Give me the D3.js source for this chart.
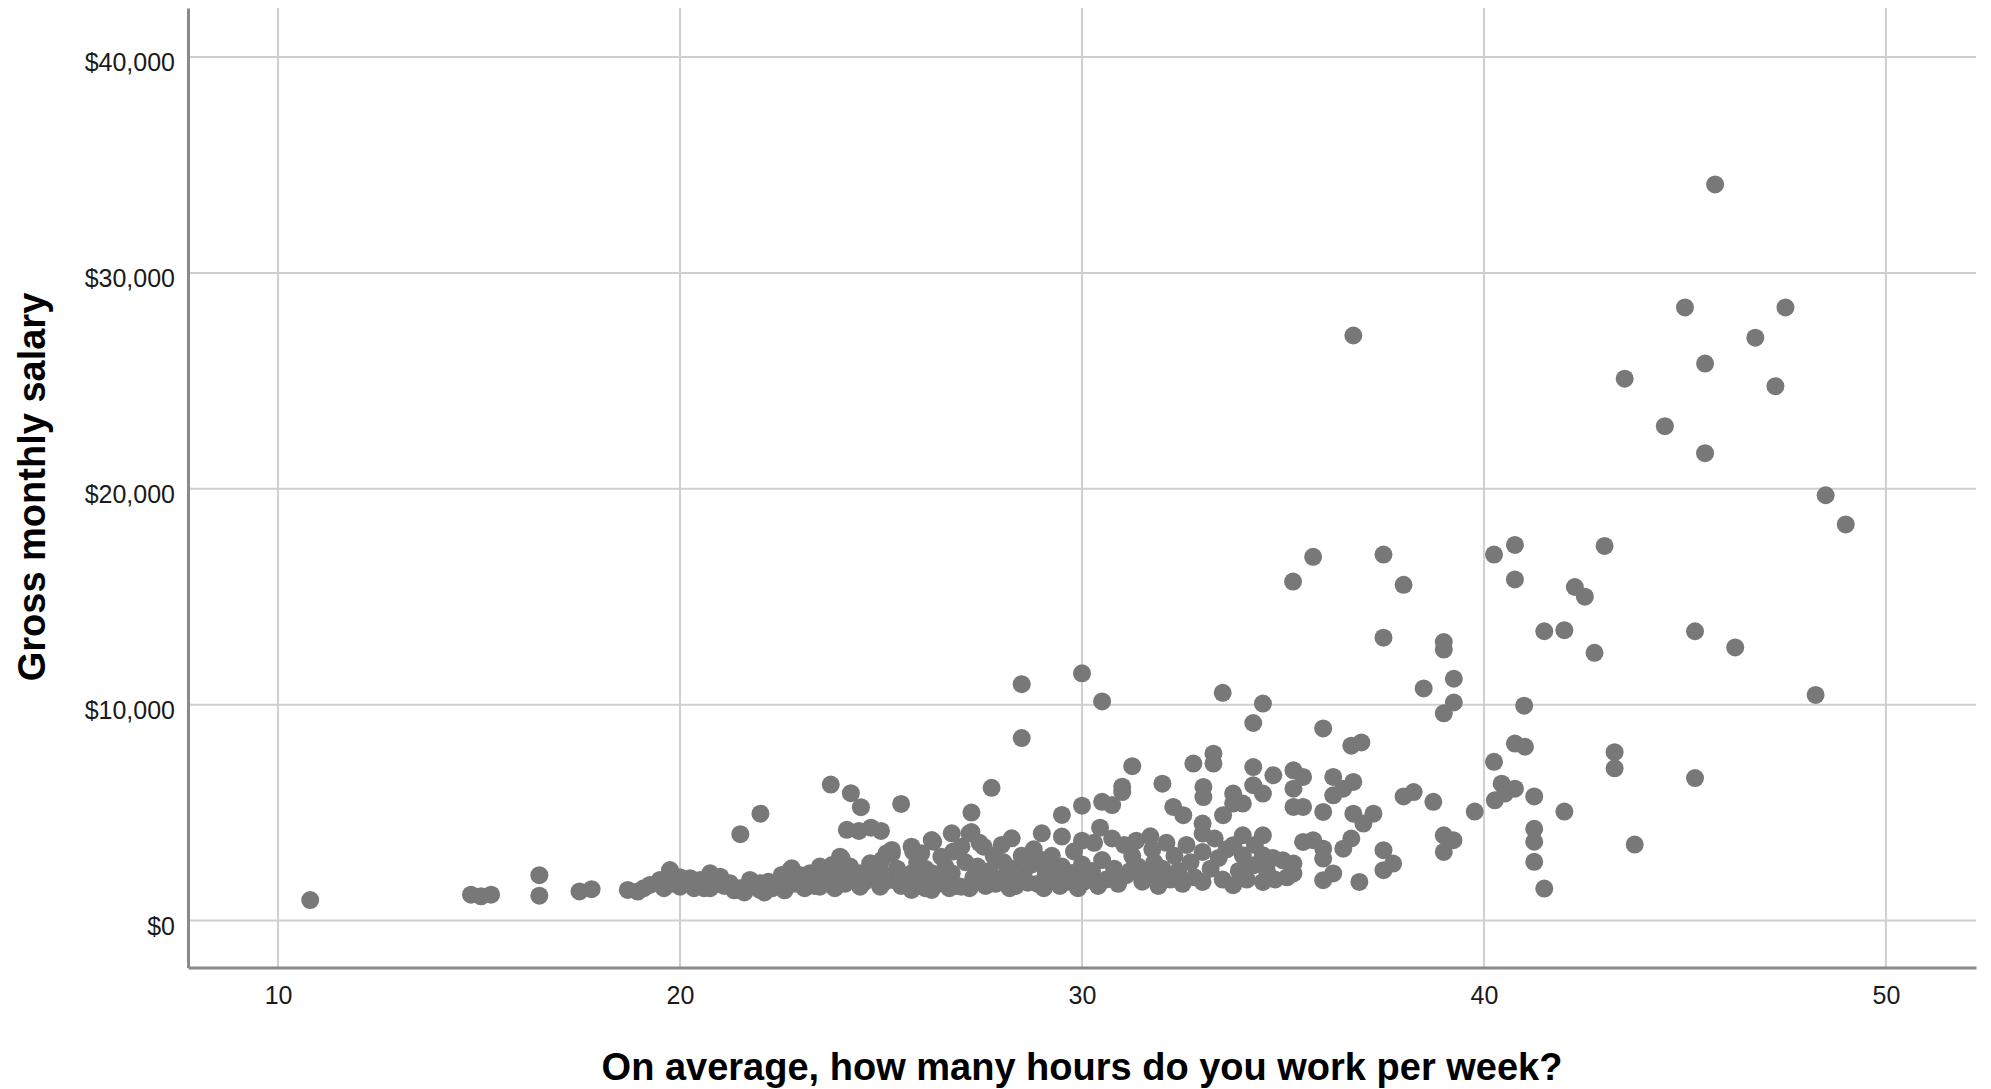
<!DOCTYPE html>
<html>
    <head>
        <meta charset="utf-8">
        <script src="https://d3js.org/d3.v7.min.js"></script>
    </head>

    <style>
        body{
            margin:0;
            background:#fff;
        }
        svg text{
            font-family:"Liberation Sans", Arial, sans-serif;
        }
    </style>

    <body>
        <div id='graph'></div>
    </body>

    <script>
        // hours per week / gross monthly salary
        const under20 = [[10.8,950],[14.8,1200],[15.05,1120],[15.3,1200],[16.5,2100],[16.5,1150],[17.5,1350],[17.8,1450],
            [18.7,1420],[18.95,1340],[19.1,1500],[19.25,1650],[19.5,1880],[19.6,1500],[19.75,2340],[19.85,1700]];

        const from20to28 = [[20.0,1570],[20.0,2000],[20.25,1960],[20.35,1500],[20.5,1880],[20.6,1500],[20.75,2190],[20.75,1500],
            [21.0,2030],[21.1,1600],[21.24,1730],[21.35,1400],[21.49,1500],[21.6,1300],[21.74,1880],[21.85,1600],
            [21.99,1420],[21.99,1730],[22.1,1300],[21.5,4000],[22.0,4950],[22.3,1500],[22.49,1570],[22.6,1400],
            [22.74,2340],[22.85,1700],[22.99,1730],[23.1,1500],[23.23,2190],[23.35,1600],[23.48,2500],[23.48,1570],
            [23.6,2000],[23.73,2030],[23.85,1500],[23.98,2960],[23.98,2190],[24.1,1700],[24.23,2500],[24.35,1900],
            [24.48,1570],[24.48,2190],[24.6,1800],[24.73,2650],[24.85,2100],[24.98,1570],[24.98,2340],[25.14,3120],
            [25.27,3270],[25.3,1880],[25.4,2400],[25.5,1600],[25.76,3420],[25.76,2190],[25.76,1420],[25.9,2700],
            [26.0,3120],[26.0,1730],[26.1,2400],[24.02,2880],[23.78,2570],[23.53,2420],[22.78,2420],[22.53,2110],
            [25.27,3110],[25.02,2800],[24.77,2570],[23.75,6300],[24.25,5900],[24.5,5250],[24.15,4200],[24.45,4150],
            [24.75,4300],[25.0,4150],[25.5,5400],[26.26,3730],[26.26,2190],[26.26,1420],[26.4,1700],[26.5,2960],
            [26.5,1880],[26.6,2500],[26.76,4040],[26.76,2190],[26.9,1600],[27.0,3420],[27.0,1570],[27.1,2700],
            [27.2,4040],[27.3,2000],[27.4,2500],[27.55,3420],[27.55,1880],[27.7,2300],[27.8,3000],[27.85,1700],
            [27.25,5000],[27.75,6150],[26.3,3650],[25.8,3190],[27.25,4100],[26.1,1500],[26.7,1500],[27.2,1500],
            [27.6,1600],[22.2,1800],[23.0,2100],[25.1,1800],[25.6,2000],[26.8,3200],[27.45,3600]];

        const from28to35 = [[28.5,8450],[28.0,3500],[28.05,2700],[28.1,2100],[28.15,1700],[28.25,3810],[28.3,2400],
            [28.35,1600],[28.5,3000],[28.55,2200],[28.65,1750],[28.75,2600],[28.8,3300],[29.0,4040],[29.0,2800],
            [29.05,1500],[29.1,2200],[29.25,3000],[29.35,1900],[29.5,3890],[29.5,4890],[29.5,2500],[29.45,1600],
            [29.75,2200],[29.8,3200],[30.0,3700],[30.0,5320],[30.0,2600],[30.05,1800],[29.9,1500],[28.5,10950],
            [30.25,2300],[30.3,3600],[30.45,4300],[30.5,5500],[30.5,2800],[30.6,1900],[30.75,5350],[30.75,3800],
            [30.8,2400],[30.0,11450],[31.0,6200],[31.0,5950],[31.05,3500],[31.1,2100],[31.25,7150],[31.25,3000],
            [31.35,3700],[31.4,2500],[31.5,1800],[30.5,10150],[31.7,3900],[31.75,3300],[31.8,2700],[31.85,2000],
            [31.9,1600],[32.0,2400],[32.1,3600],[32.2,1900],[32.3,3000],[32.4,2300],[32.5,1700],[32.6,3500],
            [32.7,2700],[32.8,2000],[33.0,4490],[33.0,4030],[33.0,3180],[33.0,1790],[33.2,2400],[33.3,3800],
            [33.4,2900],[33.5,1900],[33.6,3300],[33.76,3490],[33.76,1640],[33.9,2300],[34.0,3950],[34.0,3020],
            [34.1,1900],[34.26,2560],[34.3,3500],[34.5,3950],[34.5,3020],[34.5,1790],[34.6,2300],[34.75,2900],
            [34.8,1900],[32.0,6340],[32.27,5260],[32.52,4880],[32.77,7270],[33.02,6190],[33.02,5720],[33.27,7730],
            [33.27,7270],[33.51,4880],[33.76,5880],[33.76,5420],[34.0,5420],[34.26,7110],[34.26,6270],[34.5,5880],
            [34.76,6730],[33.5,10550],[34.5,10050],[34.26,9150],[28.2,1500],[28.45,1900],[28.9,1700],[29.2,2500],
            [29.65,1800],[30.15,2100],[30.4,1600],[30.9,1700],[31.2,2300],[31.6,2100]];

        const from35to40 = [[35.0,2790],[35.1,2000],[35.26,2640],[35.26,2180],[35.5,3640],[35.75,3720],[36.0,3330],
            [36.0,2870],[36.0,1870],[36.25,2180],[36.5,3330],[36.7,3800],[36.9,1790],[37.5,3260],[37.74,2640],
            [37.5,2330],[35.26,6960],[35.5,6650],[35.26,6110],[35.26,5260],[35.5,5260],[36.25,6650],[36.5,6110],
            [36.75,6420],[36.25,5800],[36.0,5030],[36.75,4950],[37.25,4950],[37.0,4490],[36.0,8900],[36.7,8100],
            [36.95,8250],[37.5,13100],[37.5,16950],[38.0,15550],[35.75,16850],[35.25,15700],[36.75,27100],
            [38.0,5750],[38.25,5950],[38.74,5500],[39.0,3950],[39.24,3720],[39.0,3180],[39.77,5050],[38.5,10750],
            [39.0,12900],[39.0,12550],[39.25,11200],[39.25,10100],[39.0,9600]];

        const over40 = [[40.25,16950],[40.77,17400],[40.77,15800],[43.0,17350],[42.26,15450],[42.51,15000],
            [41.5,13400],[42.0,13450],[42.75,12400],[41.0,9950],[40.77,8200],[41.02,8050],[40.25,7350],[43.25,7800],
            [43.25,7050],[40.44,6340],[40.77,6110],[40.27,5570],[40.52,5880],[41.25,5750],[42.0,5050],[41.25,4250],
            [41.25,3650],[41.25,2720],[41.5,1480],[43.75,3520],[45.25,6600],[48.25,10450],[46.25,12650],[45.25,13400],
            [45.75,34100],[45.0,28400],[47.5,28400],[46.75,27000],[45.5,25800],[43.5,25100],[47.25,24750],
            [44.5,22900],[45.5,21650],[48.5,19700],[49.0,18350]];

        const xTicks = [10, 20, 30, 40, 50];
        const yTicks = [0, 10000, 20000, 30000, 40000];
        const xTitle = 'On average, how many hours do you work per week?';
        const yTitle = 'Gross monthly salary';

        const points = under20.concat(from20to28, from28to35, from35to40, over40);

        const w = 1991;
        const h = 1089;
        const plotLeft = 188, plotRight = 1976, plotTop = 8, plotBottom = 967.6;

        const xScale = d3.scaleLinear().domain([7.76, 52.24]).range([plotLeft, plotRight]);
        const yScale = d3.scaleLinear().domain([-2180, 42270]).range([plotBottom, plotTop]);

        const svg = d3.select('#graph')
                      .append('svg')
                      .attr('width', w)
                      .attr('height', h);

        // grid
        svg.append('g')
           .selectAll('line')
           .data(xTicks)
           .enter()
           .append('line')
           .attr('x1', d => xScale(d)).attr('x2', d => xScale(d))
           .attr('y1', plotTop).attr('y2', plotBottom)
           .style('stroke', '#cfcfcf')
           .style('stroke-width', 2);

        svg.append('g')
           .selectAll('line')
           .data(yTicks)
           .enter()
           .append('line')
           .attr('x1', plotLeft).attr('x2', plotRight)
           .attr('y1', d => yScale(d)).attr('y2', d => yScale(d))
           .style('stroke', '#cfcfcf')
           .style('stroke-width', 2);

        svg.append('g')
           .selectAll('circle')
           .data(points)
           .enter()
           .append('circle')
           .attr('cx', d => xScale(d[0]))
           .attr('cy', d => yScale(d[1]))
           .attr('r', 9)
           .attr('fill', '#787878');

        const xAxis = d3.axisBottom(xScale)
                        .tickValues(xTicks)
                        .tickSize(0)
                        .tickPadding(19)
                        .tickFormat(d3.format('d'));

        const yAxis = d3.axisLeft(yScale)
                        .tickValues(yTicks)
                        .tickSize(0)
                        .tickPadding(13)
                        .tickFormat(d3.format('$,'));

        const gx = svg.append('g')
                      .attr('transform', 'translate(0,' + plotBottom + ')')
                      .call(xAxis);
        const gy = svg.append('g')
                      .attr('transform', 'translate(' + plotLeft + ',0)')
                      .call(yAxis);

        [gx, gy].forEach(g => {
            g.select('.domain').style('stroke', '#8a8a8a').style('stroke-width', 3);
            g.selectAll('text')
             .style('font-size', '25px')
             .style('font-family', '"Liberation Sans", Arial, sans-serif')
             .style('fill', '#1a1a1a');
        });
        gy.selectAll('text').attr('dy', '0.54em');

        svg.append('text')
           .attr('x', 1082)
           .attr('y', 1080)
           .style('text-anchor', 'middle')
           .style('font-size', '38px')
           .style('font-weight', 'bold')
           .style('fill', '#000')
           .text(xTitle);

        svg.append('text')
           .attr('transform', 'translate(32,487) rotate(-90)')
           .attr('dy', '0.35em')
           .style('text-anchor', 'middle')
           .style('font-size', '38px')
           .style('font-weight', 'bold')
           .style('fill', '#000')
           .text(yTitle);
    </script>
</html>
